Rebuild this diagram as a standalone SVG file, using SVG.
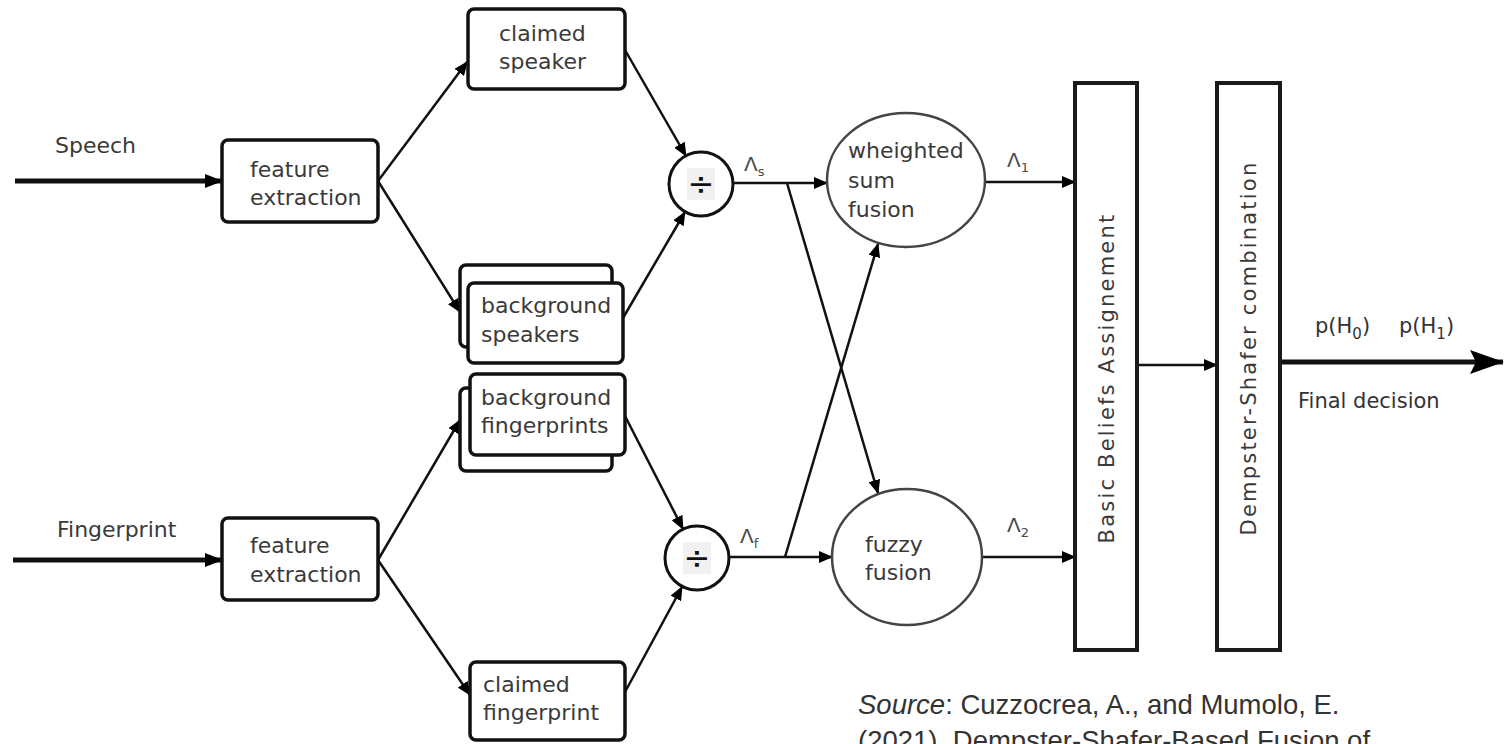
<svg xmlns="http://www.w3.org/2000/svg" width="1509" height="744" viewBox="0 0 1509 744">
  <defs>
    <marker id="arr" markerWidth="14" markerHeight="12" refX="13" refY="6" orient="auto" markerUnits="userSpaceOnUse">
      <path d="M0,0 L14,6 L0,12 Z" fill="#000"/>
    </marker>
    <marker id="arrIn" markerWidth="18" markerHeight="14" refX="17" refY="7" orient="auto" markerUnits="userSpaceOnUse">
      <path d="M0,0 L18,7 L0,14 Z" fill="#000"/>
    </marker>
    <marker id="arrOut" markerWidth="34" markerHeight="24" refX="33" refY="12" orient="auto" markerUnits="userSpaceOnUse">
      <path d="M0,0 L34,12 L0,24 L6,12 Z" fill="#000"/>
    </marker>
    <style>
      .box { fill: #fff; stroke: #111; stroke-width: 3.5; }
      .bar { fill: #fff; stroke: #1a1a1a; stroke-width: 4; }
      .oval { fill: #fff; stroke: #444; stroke-width: 2.5; }
      .div { fill: #fff; stroke: #111; stroke-width: 3; }
      .lbl { font-family: "DejaVu Sans", Verdana, sans-serif; font-size: 22px; fill: #3a3a3a; }
      .side { font-family: "DejaVu Sans", Verdana, sans-serif; font-size: 21px; letter-spacing: 2.2px; fill: #3a3a3a; text-anchor: middle; }
      .sym { font-family: "DejaVu Sans", Verdana, sans-serif; font-size: 20px; fill: #4a4a4a; }
      .out { font-family: "DejaVu Sans", Verdana, sans-serif; font-size: 21px; fill: #333; }
      .cite { font-family: "Liberation Sans", Arial, sans-serif; font-size: 27.5px; fill: #333; }
      .ln { fill: none; stroke: #111; stroke-width: 2.5; marker-end: url(#arr); }
      .thick { fill: none; stroke: #111; stroke-width: 5; }
    </style>
  </defs>
  <rect width="1509" height="744" fill="#fff"/>

  <!-- connectors -->
  <g id="connectors">
    <line class="thick" x1="15" y1="181" x2="222" y2="181" marker-end="url(#arrIn)"/>
    <line class="thick" x1="13" y1="560" x2="222" y2="560" marker-end="url(#arrIn)"/>
    <line class="ln" x1="378" y1="181" x2="467" y2="62"/>
    <line class="ln" x1="378" y1="181" x2="460" y2="312"/>
    <line class="ln" x1="625" y1="50" x2="686" y2="156"/>
    <line class="ln" x1="623" y1="318" x2="685" y2="212"/>
    <line class="ln" x1="733" y1="183" x2="827" y2="183"/>
    <line class="ln" x1="787" y1="183" x2="878" y2="493"/>
    <line class="ln" x1="378" y1="560" x2="460" y2="420"/>
    <line class="ln" x1="378" y1="560" x2="470" y2="695"/>
    <line class="ln" x1="625" y1="416" x2="683" y2="529"/>
    <line class="ln" x1="625" y1="692" x2="682" y2="587"/>
    <line class="ln" x1="729" y1="557" x2="832" y2="557"/>
    <line class="ln" x1="785" y1="557" x2="878" y2="244"/>
    <line class="ln" x1="985" y1="182" x2="1075" y2="182"/>
    <line class="ln" x1="982" y1="557" x2="1075" y2="557"/>
    <line class="ln" x1="1137" y1="365" x2="1217" y2="365"/>
    <line class="thick" x1="1280" y1="362" x2="1503" y2="362" marker-end="url(#arrOut)"/>
  </g>

  <!-- inputs -->
  <g id="speech-input">
    <text class="lbl" x="55" y="153">Speech</text>
  </g>
  <g id="fingerprint-input">
    <text class="lbl" x="57" y="537">Fingerprint</text>
  </g>

  <g id="feature-extraction-speech">
    <rect class="box" x="222" y="140" width="156" height="82" rx="6"/>
    <text class="lbl" x="250" y="177">feature</text>
    <text class="lbl" x="250" y="205">extraction</text>
  </g>

  <g id="feature-extraction-fingerprint">
    <rect class="box" x="222" y="518" width="156" height="82" rx="6"/>
    <text class="lbl" x="250" y="553">feature</text>
    <text class="lbl" x="250" y="582">extraction</text>
  </g>

  <g id="claimed-speaker">
    <rect class="box" x="468" y="9" width="157" height="80" rx="6"/>
    <text class="lbl" x="499" y="41">claimed</text>
    <text class="lbl" x="499" y="69">speaker</text>
  </g>

  <g id="background-speakers">
    <rect class="box" x="460" y="265" width="152" height="82" rx="6"/>
    <rect class="box" x="468" y="283" width="155" height="80" rx="6"/>
    <text class="lbl" x="481" y="313">background</text>
    <text class="lbl" x="481" y="342">speakers</text>
  </g>

  <g id="background-fingerprints">
    <rect class="box" x="460" y="388" width="152" height="83" rx="6"/>
    <rect class="box" x="470" y="374" width="155" height="81" rx="6"/>
    <text class="lbl" x="481" y="405">background</text>
    <text class="lbl" x="481" y="433">fingerprints</text>
  </g>

  <g id="claimed-fingerprint">
    <rect class="box" x="470" y="662" width="155" height="78" rx="6"/>
    <text class="lbl" x="483" y="692">claimed</text>
    <text class="lbl" x="483" y="720">fingerprint</text>
  </g>

  <!-- likelihood ratio operators -->
  <g id="ratio-speech">
    <circle class="div" cx="701" cy="184" r="32"/>
    <rect x="687" y="168" width="28" height="32" fill="#f1f1f1"/>
    <text x="701" y="195" font-family="DejaVu Sans, sans-serif" font-size="32" text-anchor="middle" fill="#111">÷</text>
    <text class="sym" x="744" y="171">Λ<tspan font-size="13" dy="5">s</tspan></text>
  </g>

  <g id="ratio-fingerprint">
    <circle class="div" cx="697" cy="558" r="32"/>
    <rect x="683" y="542" width="28" height="32" fill="#f1f1f1"/>
    <text x="697" y="569" font-family="DejaVu Sans, sans-serif" font-size="32" text-anchor="middle" fill="#111">÷</text>
    <text class="sym" x="740" y="543">Λ<tspan font-size="13" dy="5">f</tspan></text>
  </g>

  <g id="weighted-sum-fusion">
    <ellipse class="oval" cx="906" cy="180" rx="79" ry="67"/>
    <text class="lbl" x="848" y="158">wheighted</text>
    <text class="lbl" x="848" y="188">sum</text>
    <text class="lbl" x="848" y="217">fusion</text>
    <text class="sym" x="1007" y="167">Λ<tspan font-size="13" dy="5">1</tspan></text>
  </g>

  <g id="fuzzy-fusion">
    <ellipse class="oval" cx="907" cy="557" rx="75" ry="68"/>
    <text class="lbl" x="865" y="552">fuzzy</text>
    <text class="lbl" x="865" y="580">fusion</text>
    <text class="sym" x="1007" y="532">Λ<tspan font-size="13" dy="5">2</tspan></text>
  </g>

  <g id="basic-beliefs-assignment">
    <rect class="bar" x="1075" y="83" width="62" height="567"/>
    <text class="side" transform="translate(1114,378) rotate(-90)">Basic Beliefs Assignement</text>
  </g>

  <g id="dempster-shafer">
    <rect class="bar" x="1217" y="83" width="63" height="567"/>
    <text class="side" transform="translate(1256,348) rotate(-90)">Dempster-Shafer combination</text>
  </g>

  <g id="final-decision">
    <text class="out" x="1315" y="333">p(H<tspan font-size="15" dy="6">0</tspan><tspan dy="-6">)</tspan></text>
    <text class="out" x="1399" y="333">p(H<tspan font-size="15" dy="6">1</tspan><tspan dy="-6">)</tspan></text>
    <text class="out" x="1298" y="408">Final decision</text>
  </g>

  <g id="citation">
    <text class="cite" x="858" y="714"><tspan font-style="italic">Source</tspan>: Cuzzocrea, A., and Mumolo, E.</text>
    <text class="cite" x="858" y="750">(2021). Dempster-Shafer-Based Fusion of</text>
  </g>
</svg>
